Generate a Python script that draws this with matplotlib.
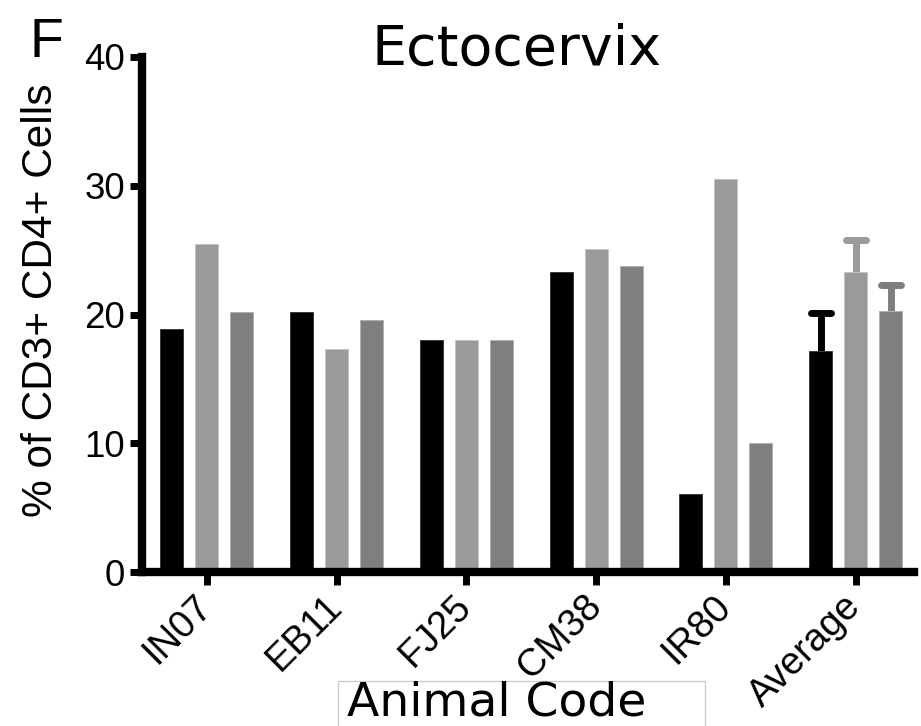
import matplotlib
matplotlib.use("Agg")
import matplotlib.pyplot as plt
import numpy as np
from matplotlib.markers import MarkerStyle
from matplotlib.patches import Rectangle

# ---- data ----
categories = ["IN07", "EB11", "FJ25", "CM38", "IR80", "Average"]
series_black = [18.9, 20.2, 18.05, 23.3, 6.05, 17.2]
series_light = [25.5, 17.35, 18.05, 25.1, 30.5, 23.3]
series_dark = [20.2, 19.6, 18.05, 23.8, 10.0, 20.3]
avg_err = [2.95, 2.5, 2.0]   # upper SEM for the Average group (black, light, dark)
yticks = [0, 10, 20, 30, 40]

colors = ["#000000", "#9a9a9a", "#7f7f7f"]
edges = ["#3a3a3a", "#c4c4c4", "#b0b0b0"]

W, H = 921, 726
fig = plt.figure(figsize=(W / 100, H / 100), dpi=100)
ax = fig.add_axes([142 / W, 1 - 572 / H, (914 - 142) / W, (572 - 57) / H])

x = np.arange(len(categories))
offset = 0.27
width = 0.177
all_series = [series_black, series_light, series_dark]
for k, vals in enumerate(all_series):
    pos = x + (k - 1) * offset
    ax.bar(pos, vals, width=width, color=colors[k], edgecolor=edges[k],
           linewidth=0.7, zorder=2)
    # error bar on the Average group only (upper)
    i = len(categories) - 1
    eb = ax.errorbar(pos[i], vals[i], yerr=[[0], [avg_err[k]]], fmt="none",
                     ecolor=colors[k], elinewidth=5, capsize=7, capthick=5,
                     zorder=1)
    caps = eb[1]
    for cap in caps:
        cap.set_marker(MarkerStyle("_", capstyle="round"))
    if len(caps) > 1:
        caps[0].set_visible(False)

ax.set_xlim(-0.5, 5.45)
ax.set_ylim(0, 40)
ax.set_yticks(yticks)
ax.set_xticks(x)

for s in ["top", "right"]:
    ax.spines[s].set_visible(False)
for s in ["left", "bottom"]:
    ax.spines[s].set_linewidth(6)
    ax.spines[s].set_color("black")
ax.spines["left"].set_bounds(0, 40)

ax.tick_params(axis="y", length=8.5, width=5, direction="out", pad=3.5,
               labelsize=26.5)
ax.tick_params(axis="x", length=9, width=5, direction="out", pad=12)
for lab in ax.get_yticklabels():
    lab.set_fontfamily("Liberation Sans")
ax.set_xticklabels(categories, rotation=45, ha="right", va="center",
                   rotation_mode="anchor", fontfamily="Liberation Sans",
                   fontsize=27.5)

# y label
fig.text(41 / W, 1 - 300 / H, "% of CD3+ CD4+ Cells", rotation=90,
         ha="center", va="center", fontsize=30.5, fontfamily="Liberation Sans")

# title
fig.text(516.5 / W, 1 - 65 / H, "Ectocervix", ha="center", va="baseline",
         fontsize=40, fontfamily="DejaVu Sans")

# panel letter
fig.text(30 / W, 1 - 57 / H, "F", ha="left", va="baseline",
         fontsize=40, fontfamily="Liberation Sans")

# x label box
fig.patches.append(Rectangle((338 / W, -0.05), (705 - 338) / W,
                             (726 - 681) / H + 0.05, transform=fig.transFigure,
                             facecolor="white", edgecolor="#cccccc",
                             linewidth=1, zorder=0))
fig.text(347 / W, 1 - 716 / H, "Animal Code", ha="left", va="baseline",
         fontsize=34, fontfamily="DejaVu Sans")

fig.savefig("out.png", dpi=100)
